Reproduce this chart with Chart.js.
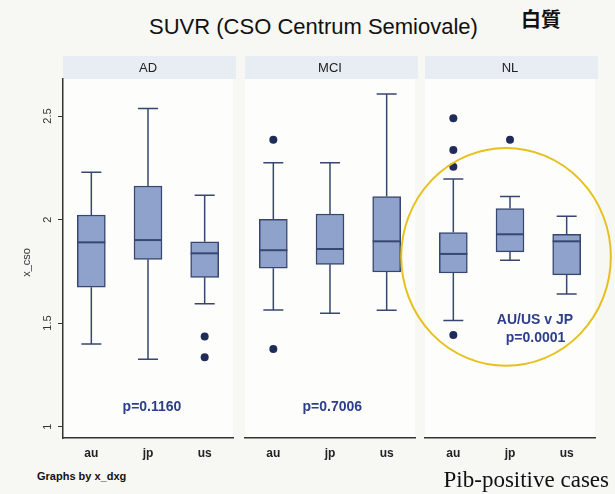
<!DOCTYPE html>
<html>
<head>
<meta charset="utf-8">
<script src="https://cdn.jsdelivr.net/npm/chart.js@4.4.1/dist/chart.umd.min.js"></script>
<style>
  body { margin: 0; background: #f7f7f3; }
  #khung { position: relative; width: 615px; height: 494px; overflow: hidden; font-family: "Liberation Sans", Arial, sans-serif; }
  canvas { position: absolute; top: 50px; }
  .chu { position: absolute; white-space: nowrap; color: #111; }
</style>
</head>
<body>
<div id="khung">
  <div class="chu" style="left:0; width:627px; text-align:center; top:16px; font-size:22px; line-height:22px;">SUVR (CSO Centrum Semiovale)</div>
  <div class="chu" style="left:521px; top:9px; font:bold 20px 'Noto Sans CJK JP'; line-height:20px;">白質</div>
  <canvas id="bd-ad" width="240" height="420" style="left:0"></canvas>
  <canvas id="bd-mci" width="180" height="420" style="left:240px"></canvas>
  <canvas id="bd-nl" width="220" height="420" style="left:395px"></canvas>
  <div class="chu" style="left:37px; top:470px; font:bold 11px 'Liberation Sans';">Graphs by x_dxg</div>
  <div class="chu" style="right:6px; top:467px; font:23px 'Liberation Serif';">Pib-positive cases</div>
</div>
<script>
const nhomX = ["au", "jp", "us"];
const mocY = [1, 1.5, 2, 2.5];

// AD
const adThap = [1.399, 1.325, 1.593];
const adQ1 = [1.673, 1.808, 1.721];
const adTrungVi = [1.890, 1.901, 1.837];
const adQ3 = [2.022, 2.162, 1.893];
const adCao = [2.228, 2.537, 2.117];
const adNgoaiLai = [[], [], [1.435, 1.335]];

// MCI
const mciThap = [1.563, 1.548, 1.562];
const mciQ1 = [1.765, 1.784, 1.747];
const mciTrungVi = [1.852, 1.858, 1.895];
const mciQ3 = [2.001, 2.027, 2.111];
const mciCao = [2.274, 2.274, 2.607];
const mciNgoaiLai = [[2.385, 1.375], [], []];

// NL
const nlThap = [1.512, 1.803, 1.641];
const nlQ1 = [1.742, 1.844, 1.733];
const nlTrungVi = [1.834, 1.929, 1.895];
const nlQ3 = [1.937, 2.053, 1.929];
const nlCao = [2.196, 2.111, 2.016];
const nlNgoaiLai = [[2.489, 2.336, 2.255, 1.443], [2.385], []];

const mauHop = "#8fa2cb";
const mauVien = "#38476f";
const mauDiem = "#1f2c5a";
const mauGhiChu = "#2c3e8c";
const fontChu = "'Liberation Sans', Arial, sans-serif";

//ve mot panel box plot
function veBoxPlot(idCanvas, ten, thap, q1, trungVi, q3, cao, ngoaiLai, ghiChu, coTrucY, padTrai, padPhai, vong) {
    const diem = [];
    for (let i = 0; i < ngoaiLai.length; i++) {
        for (let j = 0; j < ngoaiLai[i].length; j++) {
            diem.push({ x: nhomX[i], y: ngoaiLai[i][j] });
        }
    }

    const plugin = {
        id: "hopRau",
        beforeDraw(chart) {
            const ctx = chart.ctx;
            const a = chart.chartArea;
            ctx.save();
            ctx.fillStyle = "#fdfdfb";
            ctx.fillRect(a.left, a.top, a.right - a.left, a.bottom - a.top);
            // dai tieu de panel
            ctx.fillStyle = "#e8ecf3";
            ctx.fillRect(a.left, a.top - 23, a.right - a.left + 3, 23);
            ctx.fillStyle = "#222";
            ctx.font = "13px " + fontChu;
            ctx.textAlign = "center";
            ctx.textBaseline = "middle";
            ctx.fillText(ten, (a.left + a.right) / 2, a.top - 11);
            ctx.restore();
        },
        afterDatasetsDraw(chart) {
            const ctx = chart.ctx;
            const y = chart.scales.y;
            const meta = chart.getDatasetMeta(0);
            ctx.save();
            ctx.strokeStyle = mauVien;
            meta.data.forEach((bar, i) => {
                const x = bar.x;
                const yThap = y.getPixelForValue(thap[i]);
                const yCao = y.getPixelForValue(cao[i]);
                ctx.lineWidth = 1.5;
                ctx.beginPath();
                ctx.moveTo(x, y.getPixelForValue(q3[i]));
                ctx.lineTo(x, yCao);
                ctx.moveTo(x - 10, yCao);
                ctx.lineTo(x + 10, yCao);
                ctx.moveTo(x, y.getPixelForValue(q1[i]));
                ctx.lineTo(x, yThap);
                ctx.moveTo(x - 10, yThap);
                ctx.lineTo(x + 10, yThap);
                ctx.stroke();
                // trung vi
                const yTv = y.getPixelForValue(trungVi[i]);
                ctx.lineWidth = 2;
                ctx.beginPath();
                ctx.moveTo(x - bar.width / 2, yTv);
                ctx.lineTo(x + bar.width / 2, yTv);
                ctx.stroke();
            });
            ctx.restore();
        },
        afterDraw(chart) {
            const ctx = chart.ctx;
            const x = chart.scales.x;
            const y = chart.scales.y;
            ctx.save();
            ctx.fillStyle = mauGhiChu;
            ctx.font = "bold 14px " + fontChu;
            ctx.textAlign = "center";
            ctx.textBaseline = "middle";
            for (let i = 0; i < ghiChu.length; i++) {
                const g = ghiChu[i];
                ctx.fillText(g.chu, x.getPixelForValue(g.x), y.getPixelForValue(g.y));
            }

            if (vong) {
                const cx = x.getPixelForValue(vong.x);
                const cy = y.getPixelForValue(vong.y);
                const rx = x.getPixelForValue(vong.x + vong.rx) - cx;
                const ry = cy - y.getPixelForValue(vong.y + vong.ry);
                ctx.strokeStyle = "#e6c11e";
                ctx.lineWidth = 2;
                ctx.beginPath();
                ctx.ellipse(cx, cy, rx, ry, 0, 0, Math.PI * 2);
                ctx.stroke();
            }

            if (coTrucY) {
                // nhan truc y xoay doc
                ctx.fillStyle = "#333";
                ctx.font = "11px " + fontChu;
                for (let i = 0; i < mocY.length; i++) {
                    ctx.save();
                    ctx.translate(48, y.getPixelForValue(mocY[i]));
                    ctx.rotate(-Math.PI / 2);
                    ctx.fillText(String(mocY[i]), 0, 0);
                    ctx.restore();
                }
                ctx.save();
                ctx.translate(27, (chart.chartArea.top + chart.chartArea.bottom) / 2 + 4);
                ctx.rotate(-Math.PI / 2);
                ctx.fillText("x_cso", 0, 0);
                ctx.restore();
            }
            ctx.restore();
        }
    };

    const ctx = document.getElementById(idCanvas).getContext("2d");
    new Chart(ctx, {
        type: "bar",
        data: {
            labels: nhomX,
            datasets: [
                {
                    type: "bar",
                    data: q1.map((v, i) => [v, q3[i]]),
                    backgroundColor: mauHop,
                    borderColor: mauVien,
                    borderWidth: 1.5,
                    borderSkipped: false,
                    barThickness: 28
                },
                {
                    type: "scatter",
                    data: diem,
                    pointRadius: 4,
                    pointBackgroundColor: mauDiem,
                    pointBorderWidth: 0
                }
            ]
        },
        options: {
            responsive: false,
            animation: false,
            layout: { padding: { top: 29, left: padTrai, right: padPhai, bottom: 0 } },
            plugins: { legend: { display: false }, tooltip: { enabled: false } },
            scales: {
                x: {
                    type: "category",
                    offset: true,
                    grid: { display: false, drawTicks: false },
                    border: { display: true, color: "#333", width: 1.5 },
                    ticks: { color: "#222", padding: 8, font: { family: fontChu, size: 12, weight: "bold" } },
                    afterFit: s => { s.height = 32; }
                },
                y: {
                    display: coTrucY,
                    min: 0.945,
                    max: 2.679,
                    afterBuildTicks: s => { s.ticks = mocY.map(v => ({ value: v })); },
                    grid: { drawOnChartArea: false, drawTicks: true, tickLength: 5, color: "#333" },
                    border: { display: true, color: "#333", width: 1.5 },
                    ticks: { display: false },
                    afterFit: s => { if (coTrucY) s.width = 63; }
                }
            }
        },
        plugins: [plugin]
    });
}

veBoxPlot("bd-ad", "AD", adThap, adQ1, adTrungVi, adQ3, adCao, adNgoaiLai,
    [{ chu: "p=0.1160", x: 1.07, y: 1.095 }], true, 0, 7, null);
veBoxPlot("bd-mci", "MCI", mciThap, mciQ1, mciTrungVi, mciQ3, mciCao, mciNgoaiLai,
    [{ chu: "p=0.7006", x: 1.04, y: 1.095 }], false, 5, 5, null);
veBoxPlot("bd-nl", "NL", nlThap, nlQ1, nlTrungVi, nlQ3, nlCao, nlNgoaiLai,
    [{ chu: "AU/US v JP", x: 1.44, y: 1.515 }, { chu: "p=0.0001", x: 1.45, y: 1.428 }],
    false, 30, 20, { x: 0.93, y: 1.82, rx: 1.85, ry: 0.526 });
</script>
</body>
</html>
